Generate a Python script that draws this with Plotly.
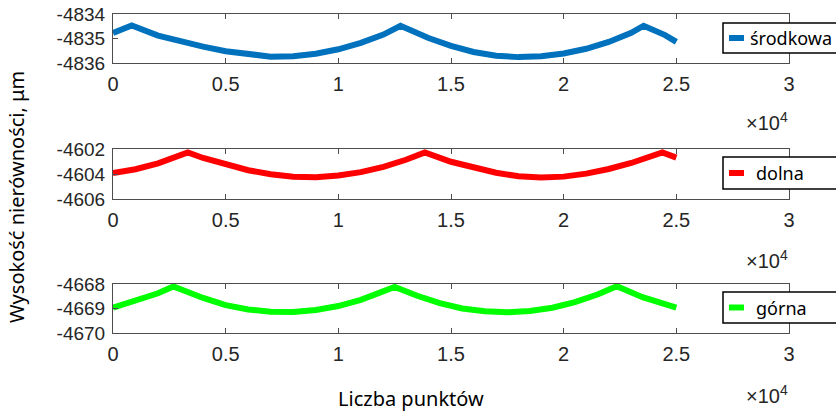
import plotly.graph_objects as go

# ---------------- data ----------------
x_srodkowa = [0, 830, 2000, 3000, 4000, 5000, 6000, 7000, 8000, 9000, 10000, 11000, 12000,
              12760, 14000, 15000, 16000, 17000, 18000, 19000, 20000, 21000, 22000, 23000,
              23550, 24500, 25000]
y_srodkowa = [-4834.77, -4834.47, -4834.88, -4835.12, -4835.33, -4835.52, -4835.66, -4835.74,
              -4835.72, -4835.62, -4835.44, -4835.18, -4834.84, -4834.48, -4834.98, -4835.30,
              -4835.55, -4835.70, -4835.76, -4835.72, -4835.61, -4835.42, -4835.14, -4834.77,
              -4834.48, -4834.86, -4835.14]

x_dolna = [0, 1000, 2000, 3320, 4000, 5000, 6000, 7000, 8000, 9000, 10000, 11000, 12000, 13000,
           13840, 15000, 16000, 17000, 18000, 19000, 20000, 21000, 22000, 23000, 24380, 25000]
y_dolna = [-4603.92, -4603.62, -4603.15, -4602.27, -4602.72, -4603.25, -4603.70, -4604.02,
           -4604.22, -4604.26, -4604.12, -4603.85, -4603.43, -4602.86, -4602.27, -4603.02,
           -4603.52, -4603.90, -4604.18, -4604.27, -4604.21, -4603.97, -4603.60, -4603.12,
           -4602.27, -4602.69]

x_gorna = [0, 1000, 2000, 2680, 4000, 5000, 6000, 7000, 8000, 9000, 10000, 11000, 12000, 12500,
           13500, 14500, 15500, 16500, 17500, 18500, 19500, 20500, 21500, 22360, 23500, 24500, 25000]
y_gorna = [-4668.97, -4668.70, -4668.38, -4668.10, -4668.57, -4668.86, -4669.04, -4669.13,
           -4669.14, -4669.06, -4668.90, -4668.65, -4668.30, -4668.12, -4668.48, -4668.78,
           -4669.00, -4669.11, -4669.15, -4669.10, -4668.97, -4668.74, -4668.43, -4668.09,
           -4668.54, -4668.81, -4668.96]

series_names = ["środkowa", "dolna", "górna"]
series_colors = ["#0072BD", "#FF0000", "#00FF00"]

x_tickvals = [0, 5000, 10000, 15000, 20000, 25000, 30000]
x_ticktext = ["0", "0.5", "1", "1.5", "2", "2.5", "3"]

y_tickvals_1 = [-4836, -4835, -4834]
y_tickvals_2 = [-4606, -4604, -4602]
y_tickvals_3 = [-4670, -4669, -4668]

y_title = "Wysokość nierówności, μm"
x_title = "Liczba punktów"

# ---------------- layout helpers ----------------
W, H = 836, 414
def px(x):
    return x / W
def py(y):
    return 1 - y / H

panel_px = [(14, 63), (149, 199), (284, 333)]   # top, bottom in pixels
xs = [x_srodkowa, x_dolna, x_gorna]
ys = [y_srodkowa, y_dolna, y_gorna]
ytv = [y_tickvals_1, y_tickvals_2, y_tickvals_3]

fig = go.Figure()

tick_font = dict(family="Liberation Sans, Arial, sans-serif", size=19, color="#262626")
txt_font = "Noto Sans, Open Sans, sans-serif"
axcol = "#4d4d4d"

for i in range(3):
    n = "" if i == 0 else str(i + 1)
    fig.add_trace(go.Scatter(x=xs[i], y=ys[i], mode="lines", name=series_names[i],
                             line=dict(color=series_colors[i], width=6),
                             xaxis="x" + n, yaxis="y" + n, showlegend=False))
    top, bot = panel_px[i]
    fig.layout["xaxis" + n] = dict(
        domain=[px(113), px(789)], anchor="y" + n, range=[0, 30000],
        tickvals=x_tickvals, ticktext=x_ticktext, ticks="inside", ticklen=5,
        tickcolor=axcol, showline=True, linecolor=axcol, linewidth=1, mirror="ticks",
        showgrid=False, zeroline=False, tickfont=dict(tick_font, size=20),
        ticklabelstandoff=3, automargin=False)
    fig.layout["yaxis" + n] = dict(
        domain=[py(bot), py(top)], anchor="x" + n, range=[ytv[i][0], ytv[i][-1]],
        tickvals=ytv[i], ticktext=[str(v) for v in ytv[i]], ticks="inside", ticklen=5,
        tickcolor=axcol, showline=True, linecolor=axcol, linewidth=1, mirror="ticks",
        showgrid=False, zeroline=False, tickfont=tick_font, ticklabelstandoff=3,
        automargin=False)

shapes = []
annotations = []
legend_box = [(23, 53), (157, 189), (292, 323)]
legend_text_x = [748, 754, 754]
exp_y = [122, 259, 394]
for i in range(3):
    t, b = legend_box[i]
    c = (t + b) / 2
    shapes.append(dict(type="rect", xref="paper", yref="paper", x0=px(723), x1=px(860),
                       y0=py(b), y1=py(t), line=dict(color="black", width=1.5),
                       fillcolor="white", layer="above"))
    shapes.append(dict(type="line", xref="paper", yref="paper", x0=px(729), x1=px(744),
                       y0=py(c), y1=py(c), line=dict(color=series_colors[i], width=6),
                       layer="above"))
    annotations.append(dict(xref="paper", yref="paper", x=px(legend_text_x[i]), y=py(c),
                            xanchor="left", yanchor="middle", showarrow=False,
                            text=series_names[i],
                            font=dict(family=txt_font, size=18, color="black")))
    annotations.append(dict(xref="paper", yref="paper", x=px(790), y=py(exp_y[i]),
                            xanchor="right", yanchor="middle", showarrow=False,
                            text="×10<sup>4</sup>",
                            font=dict(family="Liberation Sans, Arial, sans-serif", size=20,
                                      color="#262626")))

annotations.append(dict(xref="paper", yref="paper", x=px(16), y=py(197), xanchor="center",
                        yanchor="middle", showarrow=False, text=y_title, textangle=-90,
                        font=dict(family=txt_font, size=20, color="black")))
annotations.append(dict(xref="paper", yref="paper", x=px(411), y=py(398), xanchor="center",
                        yanchor="middle", showarrow=False, text=x_title,
                        font=dict(family=txt_font, size=20, color="black")))

fig.update_layout(width=W, height=H, margin=dict(l=0, r=0, t=0, b=0, autoexpand=False),
                  paper_bgcolor="white", plot_bgcolor="white",
                  shapes=shapes, annotations=annotations, showlegend=False)

fig.write_html("out.html", config={"displayModeBar": False},
               post_script="document.body.style.margin='0';document.body.style.padding='0';"
                           "document.body.style.overflow='hidden';")
